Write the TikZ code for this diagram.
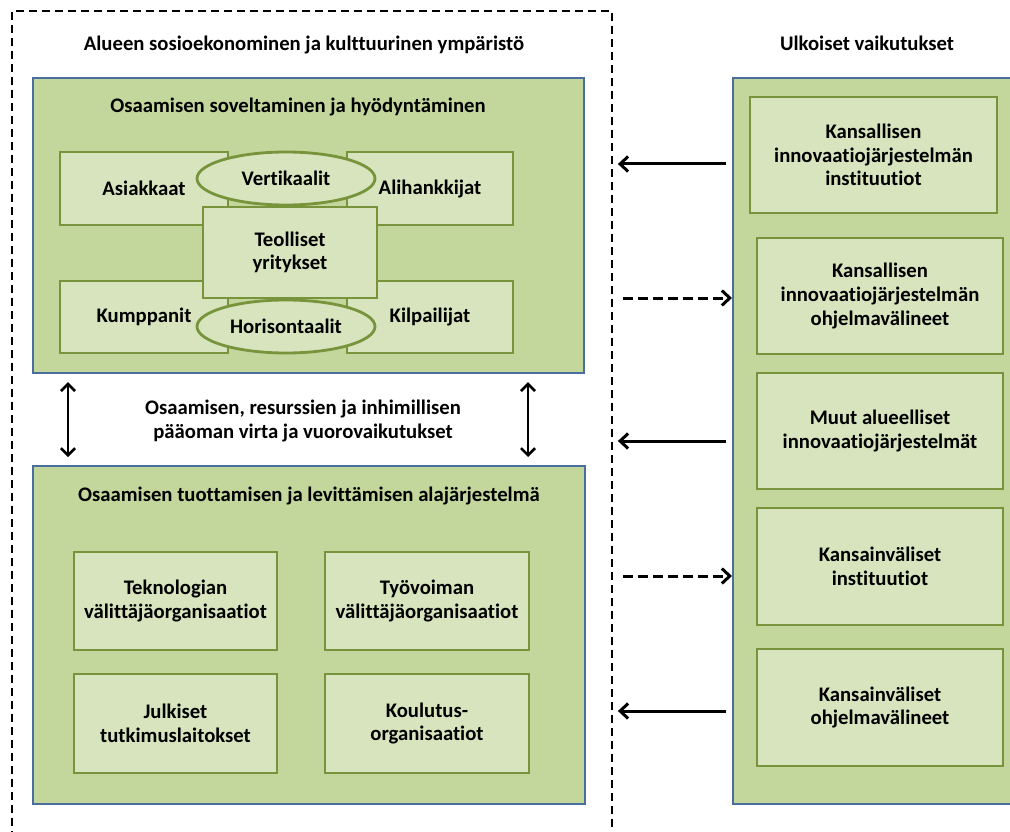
\documentclass[tikz,border=0pt]{standalone}
\usepackage{fontspec}
\setmainfont{Carlito}[RawFeature={-liga;-clig;-dlig}]
\usetikzlibrary{arrows.meta,shapes.geometric}

\definecolor{panelfill}{HTML}{C3D69B}
\definecolor{panelline}{HTML}{4A6E9E}
\definecolor{unitfill}{HTML}{D7E4BD}
\definecolor{unitline}{HTML}{77933C}

\begin{document}
\begin{tikzpicture}[x=1pt,y=-1pt,
    every node/.style={font=\fontsize{20.7}{23.6}\selectfont\bfseries, align=center},
    envbox/.style={draw=black, line width=1.9pt, dash pattern=on 8pt off 5pt, anchor=north west, inner sep=0},
    panel/.style={draw=panelline, fill=panelfill, line width=2.2pt, anchor=north west, inner sep=0},
    unit/.style={draw=unitline, fill=unitfill, line width=2.8pt, inner sep=0},
    oval/.style={unit, ellipse},
    pull/.style={line width=3pt, -{Straight Barb[length=8pt,width=15pt]}},
    push/.style={pull, dash pattern=on 10pt off 5pt},
    twoway/.style={line width=2.6pt, {Straight Barb[length=7pt,width=14pt]}-{Straight Barb[length=7pt,width=14pt]}}]

    \useasboundingbox (0,0) rectangle (1010,832);

    \node (env) [envbox, minimum width=600, minimum height=840] at (11,10) {};
    \node (envtitle) at (304,45) {Alueen sosioekonominen ja kulttuurinen ympäristö};
    \node (exttitle) at (867,43) {Ulkoiset vaikutukset};

    \node (apply) [panel, minimum width=551, minimum height=295] at (32,77) {};
    \node (applytitle) at (298,107) {Osaamisen soveltaminen ja hyödyntäminen};

    \node (cust) [unit, minimum width=168, minimum height=73] at (144,188.5) {Asiakkaat};
    \node (sub) [unit, minimum width=166, minimum height=73] at (430,188.5) {Alihankkijat};
    \node (partn) [unit, minimum width=168, minimum height=72] at (144,317) {Kumppanit};
    \node (comp) [unit, minimum width=166, minimum height=72] at (430,317) {Kilpailijat};
    \node (ind) [unit, minimum width=174, minimum height=91] at (290,252.5) {Teolliset\\yritykset};
    \node (vert) [oval, minimum width=178, minimum height=53] at (286,178.5) {Vertikaalit};
    \node (horiz) [oval, minimum width=178, minimum height=53] at (286,326.5) {Horisontaalit};

    \node (flowtext) at (303,421) {Osaamisen, resurssien ja inhimillisen\\pääoman virta ja vuorovaikutukset};

    \node (produce) [panel, minimum width=552, minimum height=338] at (32,465) {};
    \node (producetitle) at (309,496) {Osaamisen tuottamisen ja levittämisen alajärjestelmä};

    \node (tech) [unit, minimum width=203, minimum height=98] at (175.5,601) {Teknologian\\välittäjäorganisaatiot};
    \node (labour) [unit, minimum width=204, minimum height=98] at (427,601) {Työvoiman\\välittäjäorganisaatiot};
    \node (research) [unit, minimum width=203, minimum height=99] at (175.5,723.5) {Julkiset\\tutkimuslaitokset};
    \node (edu) [unit, minimum width=204, minimum height=99] at (427,723.5) {Koulutus-\\organisaatiot};

    \draw[twoway] ([yshift=-8]apply.south -| 68,0) -- ([yshift=8]produce.north -| 68,0);
    \draw[twoway] ([yshift=-8]apply.south -| 528,0) -- ([yshift=8]produce.north -| 528,0);

    \node (ext) [panel, minimum width=300, minimum height=726] at (732,77) {};

    \node (natinst) [unit, minimum width=247, minimum height=116] at (873.5,155) {Kansallisen\\innovaatiojärjestelmän\\instituutiot};
    \node (natprog) [unit, minimum width=246, minimum height=116] at (880,296) {Kansallisen\\innovaatiojärjestelmän\\ohjelmavälineet};
    \node (regsys) [unit, minimum width=246, minimum height=116] at (880,431) {Muut alueelliset\\innovaatiojärjestelmät};
    \node (intinst) [unit, minimum width=246, minimum height=117] at (880,566.5) {Kansainväliset\\instituutiot};
    \node (intprog) [unit, minimum width=246, minimum height=117] at (880,707.5) {Kansainväliset\\ohjelmavälineet};

    \foreach \y in {164,441,711}
      \draw[pull] ([xshift=-6]ext.west |- 0,\y) -- ([xshift=5]env.east |- 0,\y);
    \foreach \y in {298,576}
      \draw[push] ([xshift=10]env.east |- 0,\y) -- (ext.west |- 0,\y);
  \end{tikzpicture}
\end{document}
